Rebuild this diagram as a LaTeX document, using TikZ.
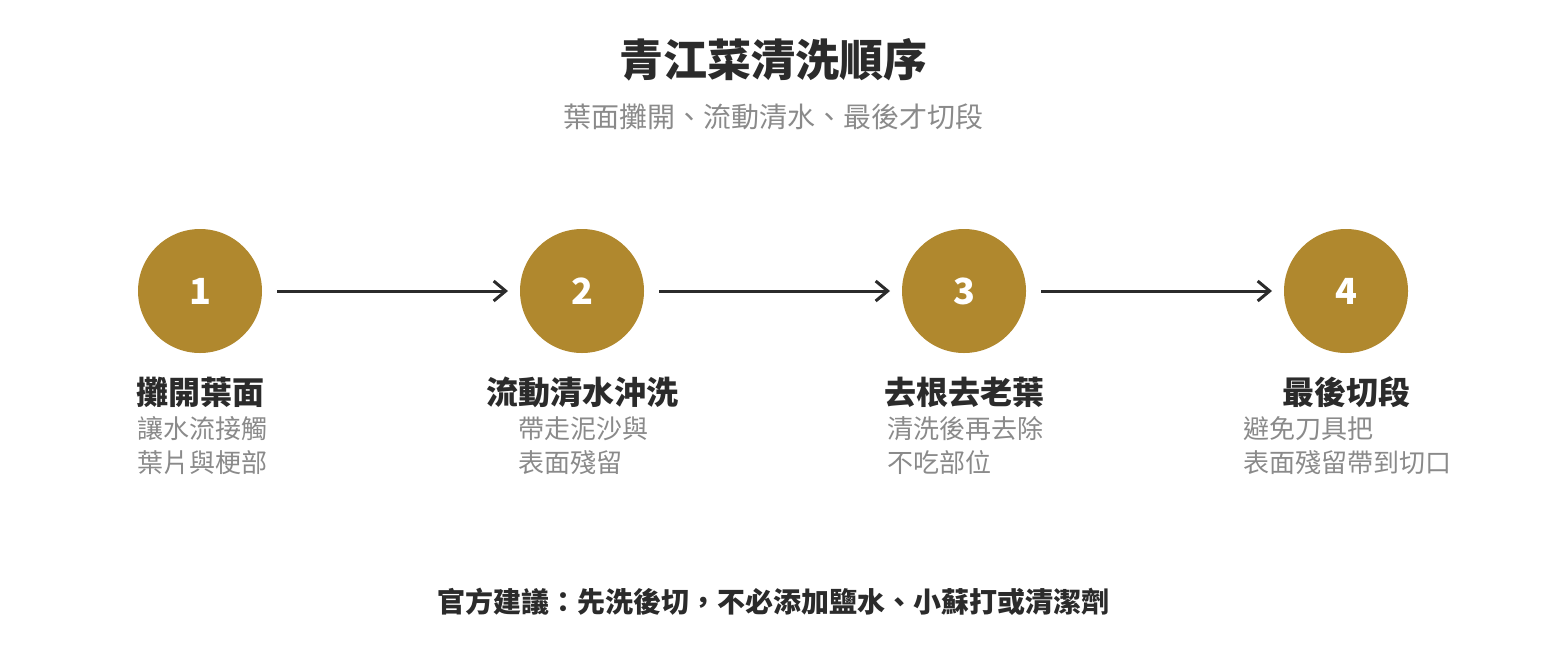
\documentclass[tikz,border=0pt]{standalone}
\usepackage{fontspec}
\setmainfont{Noto Sans CJK TC}
\usetikzlibrary{positioning,arrows.meta}
\definecolor{gold}{HTML}{B0882E}
\definecolor{ink}{HTML}{2B2B2B}
\definecolor{soft}{HTML}{8A8A8A}
\tikzset{
  stage/.style={circle, fill=gold, minimum size=62pt, inner sep=0pt, text=white, font=\fontsize{18}{18}\selectfont\bfseries},
  head/.style={text=ink, font=\fontsize{16}{16}\selectfont\bfseries, inner sep=0pt},
  note/.style={text=soft, font=\fontsize{13}{17}\selectfont, inner sep=0pt, anchor=north west, align=left},
  link/.style={draw=ink, line width=1.5pt, -{Straight Barb[length=6pt,width=10pt]}}
}
\begin{document}
\begin{tikzpicture}[x=0.5pt, y=-0.5pt]
		\useasboundingbox (0,0) rectangle (1546,660);
		\node[text=ink, font=\fontsize{22}{22}\selectfont\bfseries] (title) at (773,60) {青江菜清洗順序};
		\node[text=soft, font=\fontsize{14}{14}\selectfont] (sub) at (773,117) {葉面攤開、流動清水、最後才切段};
		
		\node[stage] (s1) at (200,291) {1};
		\node[stage] (s2) at (582,291) {2};
		\node[stage] (s3) at (964,291) {3};
		\node[stage] (s4) at (1346,291) {4};
		
		\coordinate (a1) at (277,291); \coordinate (b1) at (508,291);
		\coordinate (a2) at (659,291); \coordinate (b2) at (890,291);
		\coordinate (a3) at (1041,291); \coordinate (b3) at (1272,291);
		\draw[link] (a1) -- (b1);
		\draw[link] (a2) -- (b2);
		\draw[link] (a3) -- (b3);
		
		\node[head] (h1) at (200,392) {攤開葉面};
		\node[head] (h2) at (582,392) {流動清水沖洗};
		\node[head] (h3) at (964,392) {去根去老葉};
		\node[head] (h4) at (1346,392) {最後切段};
		
		\node[note] (n1) at (137,416) {讓水流接觸\\葉片與梗部};
		\node[note] (n2) at (518,416) {帶走泥沙與\\表面殘留};
		\node[note] (n3) at (887,416) {清洗後再去除\\不吃部位};
		\node[note] (n4) at (1243,416) {避免刀具把\\表面殘留帶到切口};
		
		\node[text=ink, font=\fontsize{14}{14}\selectfont\bfseries] (tip) at (773,602) {官方建議：先洗後切，不必添加鹽水、小蘇打或清潔劑};
\end{tikzpicture}
\end{document}
